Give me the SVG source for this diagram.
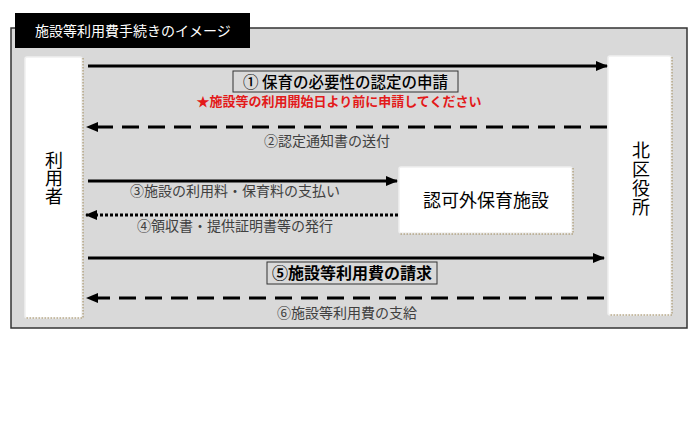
<svg xmlns="http://www.w3.org/2000/svg" width="700" height="430" viewBox="0 0 700 430">
<defs>
<marker id="ah" markerWidth="12" markerHeight="10" refX="11" refY="5" orient="auto" markerUnits="userSpaceOnUse">
<path d="M0,0 L12,5 L0,10 Z" fill="#000"/>
</marker>
<style>
.jp{font-family:"Noto Sans CJK JP","Noto Sans CJK SC",sans-serif;}
.lbl{font-size:14px;fill:#404040;}
.box{fill:#fff;stroke:#f0f0f0;stroke-width:1.5;}
.dot{fill:none;stroke:#a08a5a;stroke-width:1;stroke-dasharray:1.5 1.5;}
.arr{fill:none;stroke:#000;stroke-width:3;marker-end:url(#ah);}
.dash{stroke-dasharray:17 9;}
.dotted{stroke-dasharray:3 2;}
.node{font-size:18px;fill:#000;text-anchor:middle;}
.vert{font-size:18px;fill:#000;writing-mode:vertical-rl;text-orientation:upright;}
</style>
</defs>
<rect width="700" height="430" fill="#fff"/>
<rect x="11" y="28" width="676" height="300" fill="#d9d9d9" stroke="#333" stroke-width="1.5"/>
<g id="title">
<rect x="15" y="13" width="235" height="35" fill="#000"/>
<text x="35" y="36" class="jp" font-size="14" fill="#fff">施設等利用費手続きのイメージ</text>
</g>
<g id="user">
<rect class="box" x="25" y="57" width="57" height="261" rx="2"/>
<path class="dot" d="M83,58 V318 H26"/>
<text class="jp vert" x="54" y="151">利用者</text>
</g>
<g id="ward">
<rect class="box" x="608" y="56" width="63" height="259" rx="2"/>
<path class="dot" d="M672,57 V315 H609"/>
<text class="jp vert" x="641" y="141" letter-spacing="1">北区役所</text>
</g>
<g id="facility">
<rect class="box" x="399" y="167" width="173" height="66" rx="2"/>
<path class="dot" d="M573,168 V234 H400"/>
<text class="jp node" x="486" y="207" font-size="18.5">認可外保育施設</text>
</g>
<g id="connectors">
<line class="arr" x1="88" y1="66" x2="607" y2="66"/>
<line class="arr dash" x1="607" y1="127" x2="87" y2="127"/>
<line class="arr" x1="88" y1="181" x2="397" y2="181"/>
<line class="arr dotted" x1="398" y1="215" x2="86" y2="215"/>
<line class="arr" x1="88" y1="258" x2="604" y2="258"/>
<line class="arr dash" x1="604" y1="298" x2="87" y2="298"/>
</g>
<g id="labels">
<rect x="233" y="71" width="225" height="21" fill="none" stroke="#333" stroke-width="1"/>
<text x="345.5" y="88" class="jp" font-size="15.5" font-weight="500" text-anchor="middle" fill="#000">① 保育の必要性の認定の申請</text>
<text x="339" y="106" class="jp" font-size="13" font-weight="bold" text-anchor="middle" fill="#e31a1a">★施設等の利用開始日より前に申請してください</text>
<text x="327" y="146" class="jp lbl" text-anchor="middle">②認定通知書の送付</text>
<text x="235" y="196" class="jp lbl" text-anchor="middle">③施設の利用料・保育料の支払い</text>
<text x="235" y="231" class="jp lbl" text-anchor="middle">④領収書・提供証明書等の発行</text>
<rect x="267" y="262" width="170" height="22" fill="none" stroke="#333" stroke-width="1"/>
<text x="352" y="279" class="jp" font-size="16" font-weight="bold" text-anchor="middle" fill="#000">⑤施設等利用費の請求</text>
<text x="347" y="318" class="jp lbl" text-anchor="middle">⑥施設等利用費の支給</text>
</g>
</svg>
